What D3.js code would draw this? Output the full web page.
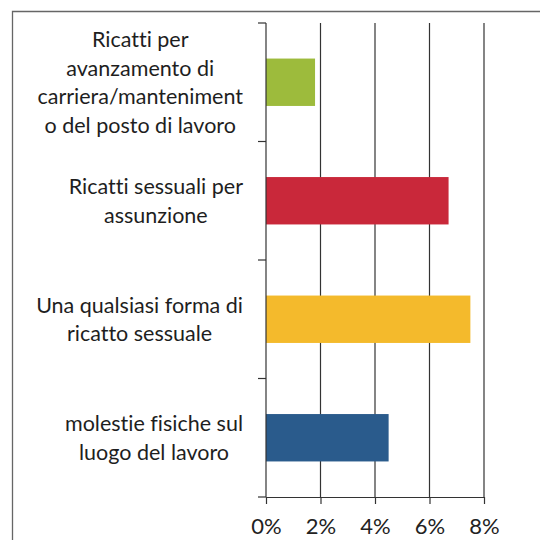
<!DOCTYPE html>
<html><head><meta charset="utf-8">
<script src="https://cdn.jsdelivr.net/npm/d3@7"></script>
<style>html,body{margin:0;padding:0;background:#fff;}svg{display:block;}text{font-variant-ligatures:none;font-feature-settings:"liga" 0;}</style>
</head><body><svg id="c" width="540" height="540"></svg>
<script>
const categories = [
  ["Ricatti per","avanzamento di","carriera/manteniment","o del posto di lavoro"],
  ["Ricatti sessuali per","assunzione"],
  ["Una qualsiasi forma di","ricatto sessuale"],
  ["molestie fisiche sul","luogo del lavoro"]
];
const values = [0.018, 0.067, 0.075, 0.045];
const colors = ["#9dbb3c", "#c9283a", "#f4ba2c", "#2a5b8c"];
const ticks = [0, 0.02, 0.04, 0.06, 0.08];

const svg = d3.select("#c");
const font = "Lato, 'Open Sans', sans-serif";
const m = {left: 266, right: 56, top: 23, bottom: 43};
const W = 540, H = 540;
const x = d3.scaleLinear().domain([0, 0.08]).range([m.left, W - m.right]);
const y = d3.scaleBand().domain(d3.range(categories.length)).range([m.top, H - m.bottom]).paddingInner(0.6).paddingOuter(0.3);
const band = d3.scaleBand().domain(d3.range(categories.length)).range([m.top, H - m.bottom]);

// frame
svg.append("path").attr("d", "M12.5,540 V11.5 H540").attr("fill","none").attr("stroke","#666").attr("stroke-width",1.3);

// gridlines
svg.append("g").selectAll("line").data(ticks.slice(1)).join("line")
  .attr("x1", d => x(d)).attr("x2", d => x(d))
  .attr("y1", m.top).attr("y2", H - m.bottom)
  .attr("stroke", "#333").attr("stroke-width", 1.2);

// bars
svg.append("g").selectAll("rect").data(values).join("rect")
  .attr("x", x(0)).attr("y", (d,i) => y(i))
  .attr("width", d => x(d) - x(0)).attr("height", y.bandwidth())
  .attr("fill", (d,i) => colors[i]);

// x axis
const xa = svg.append("g").attr("transform", `translate(0,${H - m.bottom})`)
  .call(d3.axisBottom(x).tickValues(ticks).tickFormat(d3.format(".0%")).tickSizeInner(7).tickSizeOuter(0).tickPadding(14));
xa.select(".domain").attr("stroke","#333").attr("stroke-width",1.2);
xa.selectAll(".tick line").attr("stroke","#333").attr("stroke-width",1.2);
xa.selectAll("text").attr("font-family", font).attr("font-size", 22).attr("fill","#222");

// y axis line with category boundary ticks
svg.append("line").attr("x1", x(0)).attr("x2", x(0)).attr("y1", m.top).attr("y2", H - m.bottom)
  .attr("stroke","#333").attr("stroke-width",1.2);
const bounds = d3.range(categories.length + 1).map(i => i < categories.length ? band(i) : band(i-1) + band.bandwidth());
svg.append("g").selectAll("line").data(bounds).join("line")
  .attr("x1", x(0) - 8).attr("x2", x(0)).attr("y1", d => d).attr("y2", d => d)
  .attr("stroke","#333").attr("stroke-width",1.2);

// labels: block right-aligned at 243, lines centered in block
const lh = 28.5;
categories.forEach((lines, i) => {
  const g = svg.append("g");
  const texts = lines.map(l => g.append("text").text(l).attr("font-family", font).attr("font-size", 21.5).attr("fill","#1e1e1e").attr("text-anchor","middle"));
  const maxW = d3.max(texts, t => t.node().getComputedTextLength());
  const cx = 243 - maxW / 2;
  const cy = y(i) + y.bandwidth() / 2;
  const y0 = cy - (lines.length - 1) * lh / 2;
  texts.forEach((t, k) => t.attr("x", cx).attr("y", y0 + k * lh).attr("dy", "0.35em"));
});
</script></body></html>
